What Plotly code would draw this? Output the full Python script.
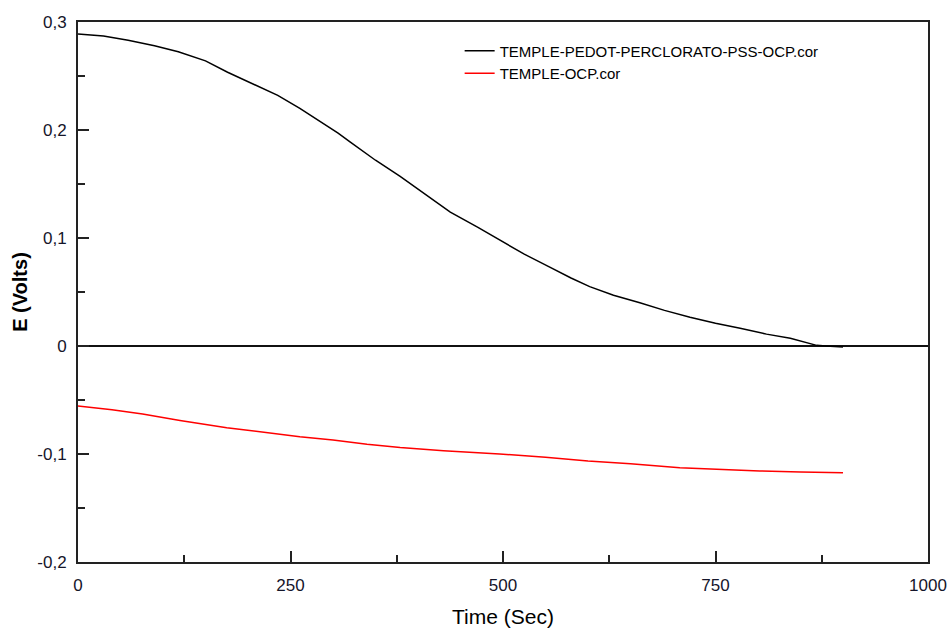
import plotly.graph_objects as go

# Black series: TEMPLE-PEDOT-PERCLORATO-PSS-OCP.cor
t_pedot = [0, 30, 59, 90, 118, 150, 176, 205, 235, 261, 306, 320, 350, 379, 410, 438,
           470, 496, 525, 555, 580, 602, 630, 661, 690, 720, 750, 779, 810, 838, 869, 880, 894, 900]
e_pedot = [0.289, 0.287, 0.283, 0.278, 0.2725, 0.264, 0.2535, 0.243, 0.232, 0.220, 0.197,
           0.189, 0.172, 0.157, 0.140, 0.124, 0.110, 0.098, 0.085, 0.073, 0.063, 0.055, 0.047,
           0.040, 0.033, 0.0266, 0.021, 0.0164, 0.011, 0.0071, 0.0006, 0.0, -0.001, -0.001]

# Red series: TEMPLE-OCP.cor
t_ocp = [0, 40, 76, 120, 175, 220, 261, 300, 340, 379, 430, 496, 550, 600, 650, 708, 760, 802, 850, 900]
e_ocp = [-0.0556, -0.059, -0.063, -0.069, -0.0756, -0.080, -0.084, -0.087, -0.091, -0.094,
         -0.097, -0.100, -0.103, -0.1065, -0.109, -0.1127, -0.1145, -0.1157, -0.1167, -0.1173]

name_pedot = "TEMPLE-PEDOT-PERCLORATO-PSS-OCP.cor"
name_ocp = "TEMPLE-OCP.cor"

x_ticks = [0, 250, 500, 750, 1000]
x_ticktext = ["0", "250", "500", "750", "1000"]
y_ticks = [-0.2, -0.1, 0, 0.1, 0.2, 0.3]
y_ticktext = ["-0,2", "-0,1", "0", "0,1", "0,2", "0,3"]

fig = go.Figure()
fig.add_trace(go.Scatter(x=t_pedot, y=e_pedot, mode="lines", name=name_pedot,
                         line=dict(color="black", width=1.5)))
fig.add_trace(go.Scatter(x=t_ocp, y=e_ocp, mode="lines", name=name_ocp,
                         line=dict(color="#ff0000", width=1.5)))

axis_common = dict(
    showgrid=False, showline=True, linecolor="#222", linewidth=2, mirror=True,
    ticks="inside", ticklen=11, tickwidth=1.5, tickcolor="#222", automargin=False,
    tickfont=dict(family="Liberation Sans, Arial", size=17, color="#15152a"),
)

fig.update_layout(
    width=949, height=628,
    margin=dict(l=78, r=21, t=22, b=66),
    paper_bgcolor="white", plot_bgcolor="white",
    font=dict(family="Liberation Sans, Arial", color="black"),
    showlegend=True,
    legend=dict(x=0.449, y=0.977, xanchor="left", yanchor="top",
                bgcolor="rgba(0,0,0,0)", borderwidth=0,
                font=dict(family="Liberation Sans, Arial", size=15, color="black"),
                tracegroupgap=0, itemwidth=30),
    xaxis=dict(range=[0, 1000], tickvals=x_ticks, ticktext=x_ticktext,
               zeroline=False, ticklabelstandoff=7,
               minor=dict(ticks="inside", ticklen=7, dtick=125, tickcolor="#222", tickwidth=1.5),
               title=dict(text="Time (Sec)", font=dict(size=21, color="black"), standoff=21),
               **axis_common),
    yaxis=dict(range=[-0.2, 0.3], tickvals=y_ticks, ticktext=y_ticktext,
               zeroline=True, zerolinecolor="#111", zerolinewidth=2,
               minor=dict(ticks="inside", ticklen=7, dtick=0.05, tickcolor="#222", tickwidth=1.5),
               ticklabelstandoff=6,
               title=dict(text="<b>E (Volts)</b>", font=dict(size=20, color="black"), standoff=4),
               **axis_common),
)

fig.write_html("out.html",
               config={"displayModeBar": False},
               post_script="document.body.style.margin='0';document.body.style.overflow='hidden';")
